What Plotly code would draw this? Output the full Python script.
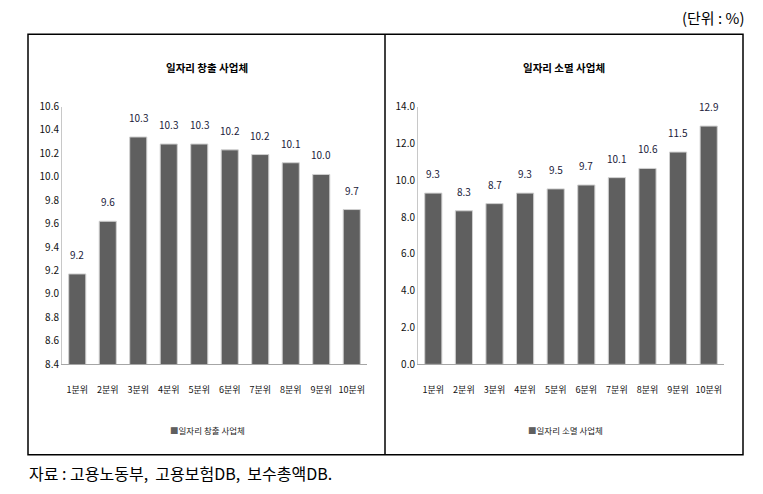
import plotly.graph_objects as go

categories = ["1분위", "2분위", "3분위", "4분위", "5분위", "6분위", "7분위", "8분위", "9분위", "10분위"]
creation_values = [9.17, 9.62, 10.34, 10.28, 10.28, 10.23, 10.19, 10.12, 10.02, 9.72]
destruction_values = [9.30, 8.34, 8.73, 9.30, 9.53, 9.74, 10.14, 10.64, 11.53, 12.94]
creation_title = "일자리 창출 사업체"
destruction_title = "일자리 소멸 사업체"
unit_text = "(단위 : %)"
source_text = "자료 : 고용노동부,  고용보험DB,  보수총액DB."

W, H = 763, 494
def px(x):
    return x / W
def py(y):
    # compensate the vertical mapping observed in the photographed page
    return 1 - ((y - 7.75) / 0.9686) / H

BAR = "#5f5f5f"
LABEL = "#1a1a3a"
FONT = "Liberation Sans Narrow, Noto Sans CJK KR, sans-serif"
KFONT = "Noto Sans CJK KR, sans-serif"

fig = go.Figure()
fig.add_trace(go.Bar(x=categories, y=creation_values, xaxis="x", yaxis="y",
                     marker=dict(color=BAR, line=dict(color="#d0d0d0", width=1)),
                     width=0.56, showlegend=False, hoverinfo="skip"))
fig.add_trace(go.Bar(x=categories, y=destruction_values, xaxis="x2", yaxis="y2",
                     marker=dict(color=BAR, line=dict(color="#d0d0d0", width=1)),
                     width=0.56, showlegend=False, hoverinfo="skip"))

annotations = []
for c, v in zip(categories, creation_values):
    annotations.append(dict(x=c, y=v, xref="x", yref="y", text=f"{v:.1f}", showarrow=False,
                            xanchor="center", yanchor="bottom", yshift=10,
                            font=dict(family=FONT, size=10, color=LABEL)))
for c, v in zip(categories, destruction_values):
    annotations.append(dict(x=c, y=v, xref="x2", yref="y2", text=f"{v:.1f}", showarrow=False,
                            xanchor="center", yanchor="bottom", yshift=10,
                            font=dict(family=FONT, size=10, color=LABEL)))

def note(x, y, text, size, xanchor="center", color="#000"):
    return dict(x=px(x), y=py(y), xref="paper", yref="paper", text=text, showarrow=False,
                xanchor=xanchor, yanchor="middle", font=dict(family=KFONT, size=size, color=color))

annotations.append(note(207, 67, f"<b>{creation_title}</b>", 10.5))
annotations.append(note(564, 67, f"<b>{destruction_title}</b>", 10.5))
annotations.append(note(207, 428, f"<span style='color:{BAR}'>■</span>{creation_title}", 8.5, color="#222"))
annotations.append(note(565, 428, f"<span style='color:{BAR}'>■</span>{destruction_title}", 8.5, color="#222"))
annotations.append(note(746, 17, unit_text, 15, xanchor="right"))
annotations.append(note(27, 471, source_text, 16, xanchor="left"))

shapes = [
    dict(type="rect", xref="paper", yref="paper", x0=px(28), x1=px(743), y0=py(453), y1=py(34),
         line=dict(color="#000", width=1.5)),
    dict(type="line", xref="paper", yref="paper", x0=px(385), x1=px(385), y0=py(453), y1=py(34),
         line=dict(color="#000", width=1.5)),
]

axis_common = dict(showgrid=False, zeroline=False, ticks="", showline=True)
fig.update_layout(
    width=W, height=H, margin=dict(l=0, r=0, t=0, b=0),
    paper_bgcolor="white", plot_bgcolor="white",
    xaxis=dict(domain=[px(62), px(367)], linecolor="#a6a6a6", linewidth=1, ticklabelstandoff=17,
               tickfont=dict(family=KFONT, size=9, color="#111"), **axis_common),
    yaxis=dict(domain=[py(362.7), py(106)], range=[8.4, 10.6], dtick=0.2, tick0=8.4, tickformat=".1f",
               linecolor="#c8c8c8", linewidth=1, tickfont=dict(family=FONT, size=10, color="#111"), **axis_common),
    xaxis2=dict(domain=[px(418), px(724)], anchor="y2", linecolor="#a6a6a6", linewidth=1, ticklabelstandoff=17,
                tickfont=dict(family=KFONT, size=9, color="#111"), **axis_common),
    yaxis2=dict(domain=[py(363), py(106)], anchor="x2", range=[0, 14], dtick=2, tickformat=".1f",
                linecolor="#c8c8c8", linewidth=1, tickfont=dict(family=FONT, size=10, color="#111"), **axis_common),
    annotations=annotations, shapes=shapes, showlegend=False,
)

fig.write_html("out.html")
